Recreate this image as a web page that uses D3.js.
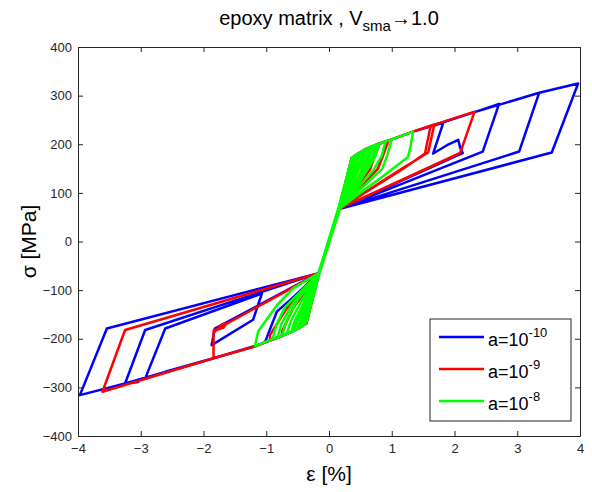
<!DOCTYPE html>
<html>
<head>
<meta charset="utf-8">
<script src="https://cdn.jsdelivr.net/npm/d3@7"></script>
<style>
body { margin: 0; background: #fff; }
text { font-family: Arial, "Liberation Sans", sans-serif; }
</style>
</head>
<body>
<svg id="chart" width="592" height="492"></svg>
<script>
// tick values
var xTicks = [-4, -3, -2, -1, 0, 1, 2, 3, 4];
var yTicks = [-400, -300, -200, -100, 0, 100, 200, 300, 400];

// legend
var seriesExp = ["-10", "-9", "-8"];
var seriesColors = ["#0000ff", "#ff0000", "#00ff00"];

// strain [%], stress [MPa] paths
var blueCurve = [
  [0,0],[0.16,67],[0.36,171],[0.45,180],[0.6,191],[0.8,201],[1.0,210],[1.34,226],[1.82,244],
  [1.66,181],[1.88,198],[2.06,209],[2.09,193],[2.13,182],[0.16,67],
  [-0.16,-65],[-0.36,-168],[-0.45,-176],[-0.6,-186],[-0.8,-197],[-1.02,-207],
  [-0.83,-144],[-0.59,-117],[-0.16,-65],
  [0.16,67],[0.36,171],[0.6,191],[1.0,210],[1.34,226],[1.82,245],[2.32,266],[2.71,283],
  [2.45,185],[0.16,67],
  [-0.16,-65],[-0.36,-168],[-0.6,-186],[-1.0,-206],[-1.18,-215],[-1.84,-240],[-2.61,-268],[-2.93,-282],
  [-2.61,-179],[-1.07,-107],[-1.21,-161],[-1.87,-213],[-1.82,-179],[-0.16,-65],
  [0.16,67],[0.36,171],[0.6,191],[1.0,210],[1.34,226],[2.32,266],[3.35,306],
  [3.03,185],[0.16,67],
  [-0.16,-65],[-0.36,-168],[-0.6,-186],[-1.18,-215],[-1.84,-240],[-2.93,-281],[-3.04,-284],[-3.04,-289],[-3.25,-292],
  [-2.93,-182],[-0.16,-65],
  [0.16,67],[0.36,171],[0.6,191],[1.0,210],[1.34,226],[2.32,266],[3.35,306],[3.97,325],
  [3.55,183],[0.16,67],
  [-0.16,-65],[-0.36,-168],[-0.6,-186],[-1.18,-215],[-1.84,-240],[-3.25,-292],[-3.97,-316],
  [-3.54,-179],[-0.16,-65],[0,0]
];

var redCurve = [
  [0,0],[0.16,67],[0.36,171],[0.45,180],[0.6,191],[0.81,202],[0.72,172],[0.65,147],[0.16,67],
  [-0.16,-65],[-0.36,-168],[-0.45,-176],[-0.6,-186],[-0.75,-194],[-0.75,-185],[-0.57,-137],[-0.16,-65],
  [0.16,67],[0.36,171],[0.6,191],[0.8,201],[0.95,208],[0.86,176],[0.78,150],[0.16,67],
  [-0.16,-65],[-0.36,-168],[-0.6,-186],[-0.8,-197],[-0.94,-204],[-0.94,-192],[-0.67,-137],[-0.36,-89],[-0.16,-65],
  [0.16,67],[0.36,171],[0.6,191],[1.0,210],[1.34,226],[1.62,238],[1.53,181],[1.19,150],[0.16,67],
  [-0.16,-65],[-0.36,-168],[-0.6,-186],[-1.18,-216],[-1.84,-240],[-1.84,-188],[-1.70,-170],[-1.63,-168],[-1.68,-177],[-1.84,-184],[-0.16,-65],
  [0.16,67],[0.36,171],[0.6,191],[1.0,210],[1.34,226],[1.68,241],[1.58,183],[1.19,152],[0.16,67],
  [-0.16,-65],[-0.36,-168],[-0.6,-186],[-1.18,-216],[-1.84,-240],[-3.61,-309],[-3.25,-182],[-0.16,-65],
  [0.16,67],[0.36,171],[0.6,191],[1.0,210],[1.34,226],[2.32,267],[2.09,182],[0.16,67],[0,0]
];

var greenCurve = [
  [0,0],[0.16,67],[0.36,171],[0.31,135],[0.17,65],
  [-0.15,-64],[-0.36,-168],[-0.31,-135],[-0.17,-66],
  [0.15,69],[0.36,171],[0.38,174],[0.33,145],[0.16,67],
  [-0.16,-65],[-0.36,-168],[-0.39,-171],[-0.34,-145],[-0.15,-63],
  [0.16,67],[0.36,171],[0.40,176],[0.35,150],[0.16,67],
  [-0.16,-65],[-0.36,-168],[-0.42,-173],[-0.37,-150],[-0.15,-63],
  [0.17,66],[0.36,171],[0.43,178],[0.38,155],[0.16,68],
  [-0.16,-65],[-0.36,-168],[-0.45,-176],[-0.41,-155],[-0.16,-66],
  [0.17,66],[0.36,171],[0.45,180],[0.40,158],[0.16,68],
  [-0.16,-65],[-0.36,-168],[-0.5,-180],[-0.45,-158],[-0.16,-67],
  [0.15,67],[0.36,171],[0.45,180],[0.5,184],[0.45,162],[0.16,67],
  [-0.17,-65],[-0.36,-168],[-0.55,-183],[-0.50,-160],[-0.16,-64],
  [0.16,66],[0.36,171],[0.55,188],[0.50,164],[0.17,68],
  [-0.17,-65],[-0.36,-168],[-0.6,-186],[-0.54,-162],[-0.16,-64],
  [0.16,66],[0.36,171],[0.6,191],[0.54,165],[0.17,68],
  [-0.16,-65],[-0.36,-168],[-0.6,-186],[-0.67,-190],[-0.61,-164],[-0.45,-125],[-0.15,-65],
  [0.16,67],[0.36,171],[0.6,191],[0.65,194],[0.59,167],[0.45,128],[0.16,67],
  [-0.16,-65],[-0.36,-168],[-0.6,-186],[-0.75,-194],[-0.68,-165],[-0.5,-120],[-0.15,-65],
  [0.16,67],[0.36,171],[0.6,191],[0.7,196],[0.63,168],[0.16,67],
  [-0.16,-66],[-0.36,-168],[-0.6,-186],[-0.82,-198],[-0.76,-170],[-0.6,-132],[-0.16,-65],
  [0.16,67],[0.36,171],[0.6,191],[0.75,199],[0.68,170],[0.5,130],[0.16,67],
  [-0.16,-66],[-0.36,-168],[-0.6,-186],[-0.9,-201],[-0.84,-172],[-0.7,-135],[-0.16,-65],
  [0.16,67],[0.36,171],[0.6,191],[0.8,201],[0.72,170],[0.5,125],[0.16,67],
  [-0.16,-65],[-0.36,-168],[-0.6,-186],[-1.0,-206],[-1.18,-215],[-1.13,-185],[-1.02,-165],[-0.83,-131],[-0.57,-96],[-0.16,-65],
  [0.16,67],[0.36,171],[0.6,191],[0.9,206],[0.84,176],[0.7,145],[0.16,67],
  [0.36,171],[0.6,191],[1.0,210],[0.93,178],[0.85,150],[0.16,67],
  [0.36,171],[0.6,191],[1.0,210],[1.34,226],[1.30,196],[1.26,174],[1.13,161],[0.85,133],[0.5,100],[0.16,67],[0,0]
];

var curves = [blueCurve, redCurve, greenCurve];

var margin = {top: 47, right: 12, bottom: 56, left: 78};
var width = 592 - margin.left - margin.right;
var height = 492 - margin.top - margin.bottom;

var svg = d3.select("#chart");
var g = svg.append("g").attr("transform", "translate(" + margin.left + "," + margin.top + ")");

var x = d3.scaleLinear().domain([-4, 4]).range([0, width]);
var y = d3.scaleLinear().domain([-400, 400]).range([height, 0]);

g.append("rect").attr("width", width).attr("height", height).attr("fill", "#fff");

var clip = svg.append("defs").append("clipPath").attr("id", "plotclip");
clip.append("rect").attr("x", -2).attr("y", -2).attr("width", width + 4).attr("height", height + 4);

var line = d3.line().x(function(d) { return x(d[0]); }).y(function(d) { return y(d[1]); });

var plot = g.append("g").attr("clip-path", "url(#plotclip)");
curves.forEach(function(c, i) {
  plot.append("path")
    .datum(c)
    .attr("d", line)
    .attr("fill", "none")
    .attr("stroke", seriesColors[i])
    .attr("stroke-width", 2.5)
    .attr("stroke-linejoin", "round");
});

// axes, matlab style box with inward ticks
function styleAxis(sel) {
  sel.select(".domain").attr("stroke", "#262626");
  sel.selectAll(".tick line").attr("stroke", "#262626");
  sel.selectAll("text").attr("fill", "#262626").style("font-size", "13px").style("font-family", "Arial, 'Liberation Sans', sans-serif");
}

g.append("g").attr("transform", "translate(0," + height + ")")
  .call(d3.axisBottom(x).tickValues(xTicks).tickSize(-5).tickSizeOuter(0).tickPadding(8))
  .call(styleAxis);
g.append("g")
  .call(d3.axisTop(x).tickValues(xTicks).tickSize(-5).tickSizeOuter(0).tickFormat(""))
  .call(styleAxis);
g.append("g")
  .call(d3.axisLeft(y).tickValues(yTicks).tickSize(-5).tickSizeOuter(0).tickPadding(6))
  .call(styleAxis);
g.append("g").attr("transform", "translate(" + width + ",0)")
  .call(d3.axisRight(y).tickValues(yTicks).tickSize(-5).tickSizeOuter(0).tickFormat(""))
  .call(styleAxis);

// title
var title = svg.append("text")
  .attr("x", margin.left + width / 2)
  .attr("y", 25)
  .attr("text-anchor", "middle")
  .style("font-size", "20px")
  .attr("fill", "#000");
title.append("tspan").text("epoxy matrix , V");
title.append("tspan").attr("dy", 6).style("font-size", "15px").text("sma");
title.append("tspan").attr("dy", -6).text("\u21921.0");

// axis labels
svg.append("text")
  .attr("x", margin.left + width / 2)
  .attr("y", 481)
  .attr("text-anchor", "middle")
  .style("font-size", "21px")
  .attr("fill", "#000")
  .text("\u03b5 [%]");

svg.append("text")
  .attr("transform", "translate(36," + (margin.top + height / 2) + ") rotate(-90)")
  .attr("text-anchor", "middle")
  .style("font-size", "21px")
  .attr("fill", "#000")
  .text("\u03c3 [MPa]");

// legend
var lg = svg.append("g").attr("transform", "translate(430,319)");
lg.append("rect").attr("width", 141).attr("height", 102)
  .attr("fill", "#fff").attr("stroke", "#262626").attr("stroke-width", 1);
seriesExp.forEach(function(e, i) {
  var ly = 18 + i * 32;
  lg.append("line").attr("x1", 9).attr("x2", 54).attr("y1", ly).attr("y2", ly)
    .attr("stroke", seriesColors[i]).attr("stroke-width", 2.5);
  var t = lg.append("text").attr("x", 58).attr("y", ly + 9)
    .style("font-size", "18px").attr("fill", "#000");
  t.append("tspan").text("a=10");
  t.append("tspan").attr("dy", -9).style("font-size", "13px").text(e);
});
</script>
</body>
</html>
